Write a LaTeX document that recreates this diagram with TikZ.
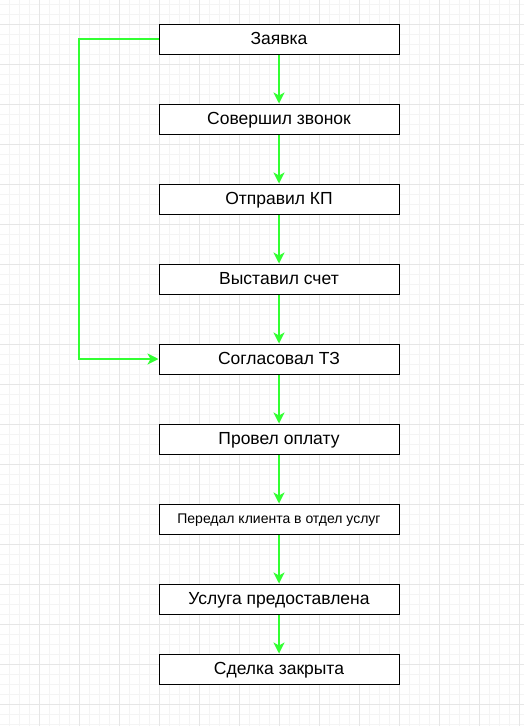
\documentclass[tikz,border=0pt]{standalone}
\usepackage{fontspec}
\setmainfont{Liberation Sans}
\usetikzlibrary{arrows.meta}
\definecolor{minorgrid}{HTML}{F4F4F4}
\definecolor{majorgrid}{HTML}{E6E6E6}
\definecolor{flowgreen}{HTML}{33FF33}
\tikzset{
  stepbox/.style={draw=black, line width=1pt, fill=white, minimum width=240pt, minimum height=30pt, inner sep=0pt, font=\fontsize{17.5}{20}\selectfont, text=black, text height=12.6pt, text depth=2.6pt},
  smallbox/.style={stepbox, font=\fontsize{14}{16}\selectfont, text height=10pt, text depth=1.6pt},
  flow/.style={draw=flowgreen, line width=2pt, -{Stealth[length=11pt,width=11pt,inset=3pt]}},
}
\begin{document}
\begin{tikzpicture}[x=1pt,y=-1pt]
\useasboundingbox (0,0) rectangle (524,726);
\fill[white] (0,0) rectangle (524,726);
% minor grid
\foreach \gx in {9,19,...,519} \draw[minorgrid, line width=1pt] (\gx,0) -- (\gx,726);
\foreach \gy in {4,14,...,724} \draw[minorgrid, line width=1pt] (0,\gy) -- (524,\gy);
% major grid
\foreach \gx in {39,79,...,519} \draw[majorgrid, line width=1pt] (\gx,0) -- (\gx,726);
\foreach \gy in {24,64,...,704} \draw[majorgrid, line width=1pt] (0,\gy) -- (524,\gy);
% boxes
\node[stepbox] (b1) at (279,39) {Заявка};
\node[stepbox] (b2) at (279,119) {Совершил звонок};
\node[stepbox] (b3) at (279,199) {Отправил КП};
\node[stepbox] (b4) at (279,279) {Выставил счет};
\node[stepbox] (b5) at (279,359) {Согласовал ТЗ};
\node[stepbox] (b6) at (279,439) {Провел оплату};
\node[smallbox] (b7) at (279,519) {Передал клиента в отдел услуг};
\node[stepbox] (b8) at (279,599) {Услуга предоставлена};
\node[stepbox] (b9) at (279,669) {Сделка закрыта};
% connectors
\draw[flow] (b1) -- (b2);
\draw[flow] (b2) -- (b3);
\draw[flow] (b3) -- (b4);
\draw[flow] (b4) -- (b5);
\draw[flow] (b5) -- (b6);
\draw[flow] (b6) -- (b7);
\draw[flow] (b7) -- (b8);
\draw[flow] (b8) -- (b9);
\coordinate (c1) at (79,39);
\coordinate (c2) at (79,359);
\draw[flow] (b1.west) -- (c1) -- (c2) -- (b5.west);
\end{tikzpicture}
\end{document}
